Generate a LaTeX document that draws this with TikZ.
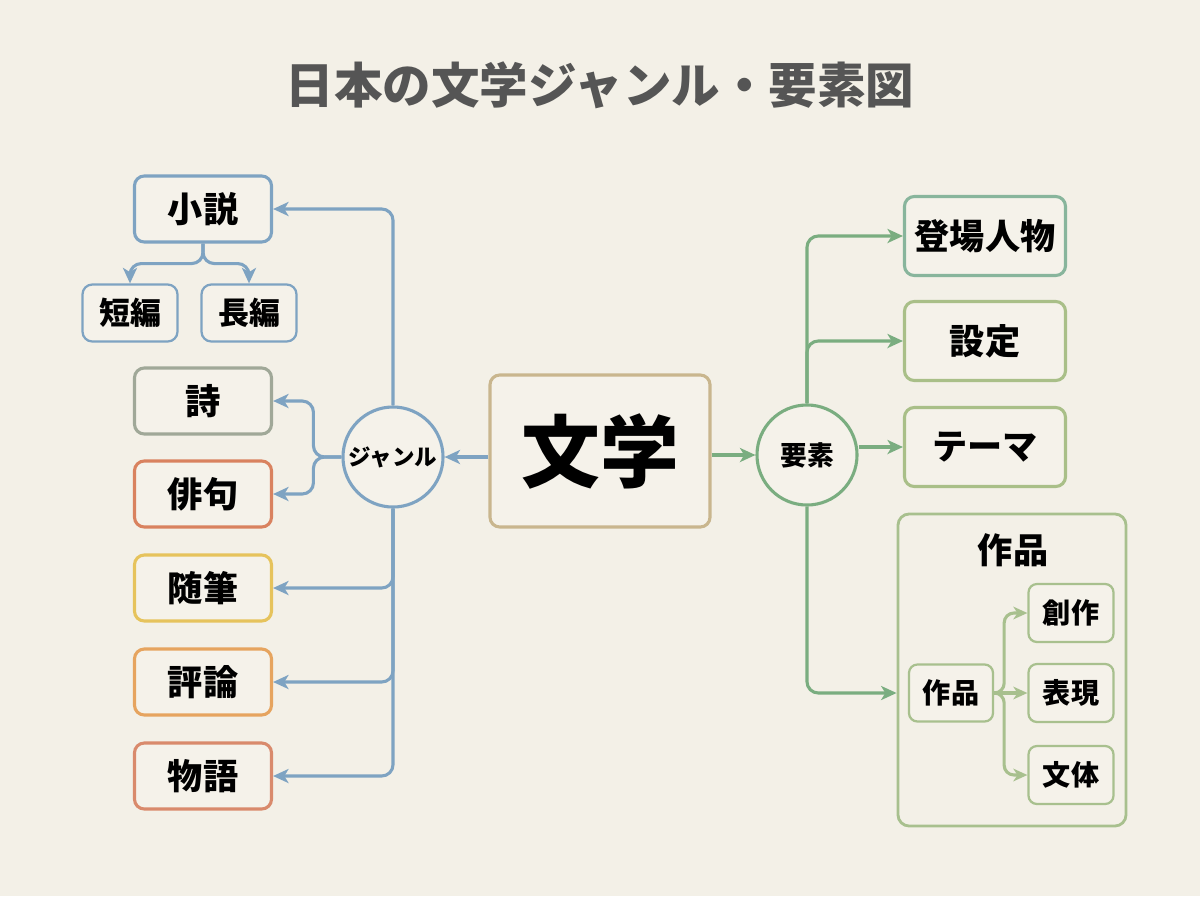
\documentclass[tikz,border=0pt]{standalone}
\usepackage{fontspec}
\setmainfont{Noto Sans CJK JP}
\usetikzlibrary{arrows.meta}
\definecolor{paper}{HTML}{F3F0E7}
\definecolor{boxfill}{HTML}{F5F2EA}
\definecolor{titlegray}{HTML}{555555}
\definecolor{genreblue}{HTML}{7EA3C2}
\definecolor{poemgray}{HTML}{A0A898}
\definecolor{haikured}{HTML}{D9825F}
\definecolor{essayyellow}{HTML}{E6C35C}
\definecolor{critorange}{HTML}{E6A45F}
\definecolor{talered}{HTML}{D98A6C}
\definecolor{coretan}{HTML}{C9B68E}
\definecolor{elemgreen}{HTML}{7AAD80}
\definecolor{chargreen}{HTML}{88B59C}
\definecolor{olivegreen}{HTML}{A9BF88}
\definecolor{workgreen}{HTML}{A8C08E}
\begin{document}
\begin{tikzpicture}[x=0.025cm, y=-0.025cm,
  box/.style={draw, line width=2.2pt, rounded corners=7pt, fill=boxfill,
    minimum width=3.425cm, minimum height=1.65cm, font=\bfseries\fontsize{25}{28}\selectfont},
  subbox/.style={box, line width=1.6pt, minimum width=2.375cm, minimum height=1.425cm,
    font=\bfseries\fontsize{22}{26}\selectfont},
  elembox/.style={box, minimum width=4.025cm, minimum height=1.975cm},
  workbox/.style={draw=workgreen, line width=1.6pt, rounded corners=6pt, fill=boxfill,
    minimum width=2.125cm, minimum height=1.45cm, font=\bfseries\fontsize{20}{24}\selectfont},
  hub/.style={circle, draw, line width=2.2pt, fill=boxfill, minimum size=2.5cm, inner sep=0pt},
  bline/.style={genreblue, line width=2.2pt, rounded corners=8pt, -{Stealth[length=11pt,width=10pt,inset=3pt]}},
  gline/.style={elemgreen, line width=2.2pt, rounded corners=8pt, -{Stealth[length=11pt,width=10pt,inset=3pt]}},
  wline/.style={workgreen, line width=2.2pt, rounded corners=7pt, -{Stealth[length=10pt,width=9pt,inset=3pt]}}]
  \useasboundingbox[fill=paper] (0,0) rectangle (1200,896);
  % title
  \node[text=titlegray, font=\bfseries\fontsize{34.5}{40}\selectfont] (title) at (600,85) {日本の文学ジャンル・要素図};

  % center
  \node[box, draw=coretan, minimum width=5.5cm, minimum height=3.8cm,
    font=\bfseries\fontsize{56}{60}\selectfont] (bungaku) at (600,451) {文学};
  \node[hub, draw=genreblue, font=\bfseries\fontsize{16}{18}\selectfont] (genre) at (393,457) {ジャンル};
  \node[hub, draw=elemgreen, font=\bfseries\fontsize{19}{22}\selectfont] (yoso) at (807,455) {要素};

  % genres
  \node[box, draw=genreblue] (shosetsu) at (203,209) {小説};
  \node[subbox, draw=genreblue] (tanpen) at (130,313) {短編};
  \node[subbox, draw=genreblue] (chohen) at (249,313) {長編};
  \node[box, draw=poemgray] (shi) at (203,401) {詩};
  \node[box, draw=haikured] (haiku) at (203,494) {俳句};
  \node[box, draw=essayyellow] (zuihitsu) at (203,588) {随筆};
  \node[box, draw=critorange] (hyoron) at (203,682) {評論};
  \node[box, draw=talered] (monogatari) at (203,776) {物語};

  % elements
  \node[elembox, draw=chargreen] (toujou) at (985,236) {登場人物};
  \node[elembox, draw=olivegreen] (settei) at (985,341) {設定};
  \node[elembox, draw=olivegreen] (theme) at (985,447) {テーマ};
  \node[draw=workgreen, line width=2pt, rounded corners=8pt, minimum width=5.7cm,
    minimum height=7.8cm] (sakuhin) at (1012,670) {};
  \node[font=\bfseries\fontsize{25}{28}\selectfont] (sakuhintitle) at (1013,550) {作品};
  \node[workbox, minimum width=2.1cm, minimum height=1.425cm] (inner) at (951,693) {作品};
  \node[workbox] (sousaku) at (1071,613) {創作};
  \node[workbox] (hyogen) at (1071,693) {表現};
  \node[workbox] (buntai) at (1071,775) {文体};

  % connectors
  \draw[bline] (bungaku.west |- genre) -- (genre.east);
  \draw[gline] (bungaku.east |- yoso) -- (yoso.west);
  \draw[bline] (genre.north) |- (shosetsu.east);
  \draw[bline] (shosetsu.south) -- ++(0,20) -| (tanpen.north);
  \draw[bline] (shosetsu.south) -- ++(0,20) -| (chohen.north);
  \draw[bline] (genre.west) -- ++(-28,0) |- (shi.east);
  \draw[bline] (genre.west) -- ++(-28,0) |- (haiku.east);
  \draw[bline] (genre.south) |- (zuihitsu.east);
  \draw[bline] (genre.south) |- (hyoron.east);
  \draw[bline] (genre.south) |- (monogatari.east);
  \draw[gline] (yoso.north) |- (toujou.west);
  \draw[gline] (yoso.north) |- (settei.west);
  \draw[gline] (yoso.east |- theme) -- (theme.west);
  \draw[gline] (yoso.south) |- (sakuhin.west |- inner);
  \draw[wline] (inner.east) -- ++(10,0) |- (sousaku.west);
  \draw[wline] (inner.east) -- (hyogen.west);
  \draw[wline] (inner.east) -- ++(10,0) |- (buntai.west);
\end{tikzpicture}
\end{document}
